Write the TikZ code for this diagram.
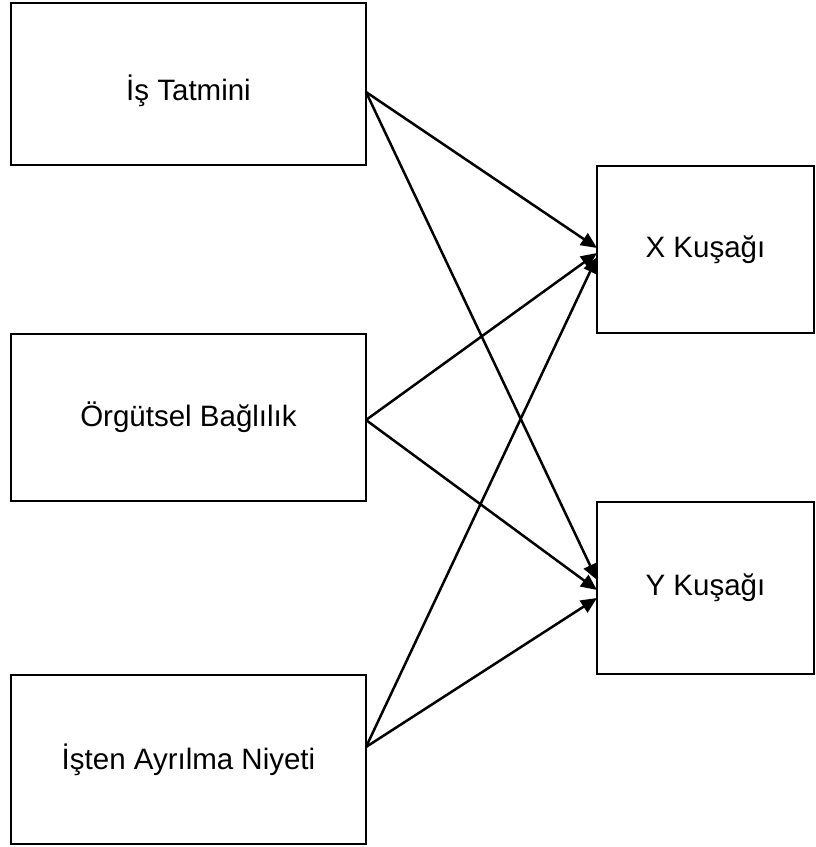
\documentclass[tikz,border=0pt]{standalone}
\usepackage{fontspec}
\setmainfont{Liberation Sans}
\usetikzlibrary{arrows.meta}
\begin{document}
\begin{tikzpicture}[x=1pt,y=-1pt,
  box/.style={draw=black,line width=2.5pt,rectangle,inner sep=0pt,outer sep=0pt,
    font=\fontsize{29.5}{35}\selectfont},
  conn/.style={line width=2.5pt,-{Triangle[length=16pt,width=14pt]},shorten >=0pt}]
\useasboundingbox (0,0) rectangle (816,847);
\node[box,minimum width=355pt,minimum height=162pt] (is) at (188.5,84) {\raisebox{-16pt}[0pt][0pt]{İş Tatmini}};
\node[box,minimum width=355pt,minimum height=167pt] (org) at (188.5,417.5) {Örgütsel Bağlılık};
\node[box,minimum width=355pt,minimum height=169pt] (ist) at (188.5,759.5) {İşten Ayrılma Niyeti};
\node[box,minimum width=217pt,minimum height=167pt] (x) at (705.5,249.5) {X Kuşağı};
\node[box,minimum width=217pt,minimum height=172pt] (y) at (705.5,588) {Y Kuşağı};
\coordinate (is-o) at ([yshift=-8pt]is.east);
\coordinate (org-o) at ([yshift=-2.5pt]org.east);
\coordinate (ist-o) at ([yshift=12.5pt]ist.east);
\draw[conn] (is-o) -- ([yshift=1.5pt]x.west);
\draw[conn] (org-o) -- ([yshift=-3.5pt]x.west);
\draw[conn] (ist-o) -- ([yshift=-7.5pt]x.west);
\draw[conn] (is-o) -- ([yshift=8pt]y.west);
\draw[conn] (org-o) -- ([yshift=-2pt]y.west);
\draw[conn] (ist-o) -- ([yshift=-10pt]y.west);
\end{tikzpicture}
\end{document}
